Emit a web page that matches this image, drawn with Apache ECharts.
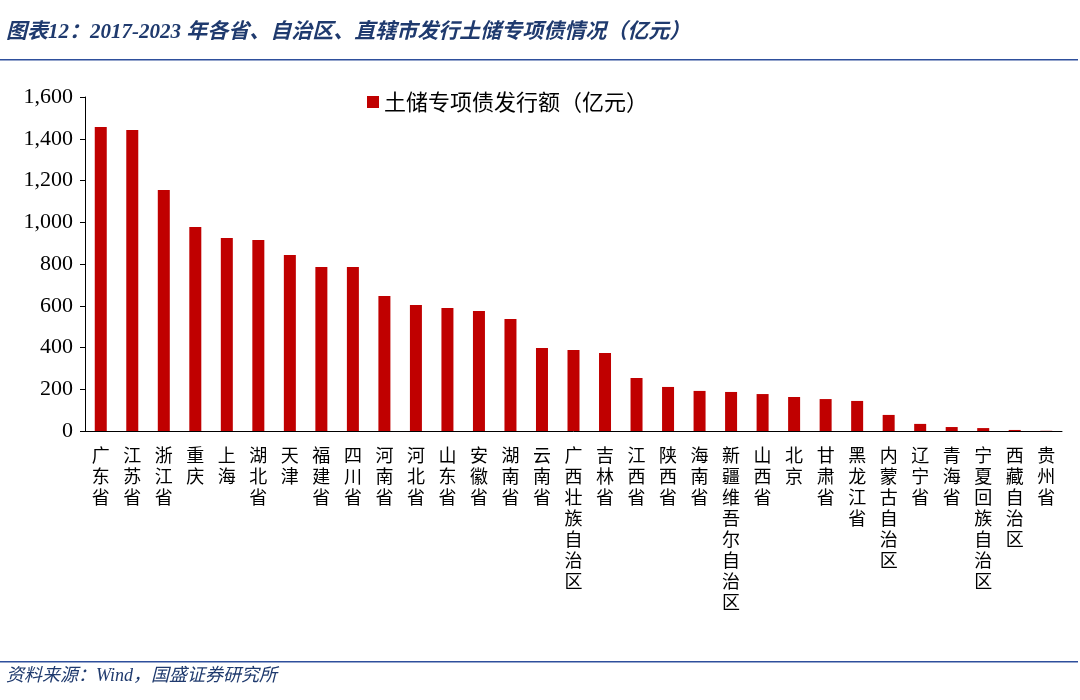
<!DOCTYPE html><html><head><meta charset="utf-8"><script src="https://cdn.jsdelivr.net/npm/echarts@6/dist/echarts.min.js"></script>
<style>body{margin:0;background:#fff}#c{width:1080px;height:700px}</style></head><body><div id="c"></div><script>
const categories=['广东省','江苏省','浙江省','重庆','上海','湖北省','天津','福建省','四川省','河南省','河北省','山东省','安徽省','湖南省','云南省','广西壮族自治区','吉林省','江西省','陕西省','海南省','新疆维吾尔自治区','山西省','北京','甘肃省','黑龙江省','内蒙古自治区','辽宁省','青海省','宁夏回族自治区','西藏自治区','贵州省'];
const values=[1456,1442,1154,977,924,915,843,786,786,647,604,589,575,536,398,388,374,254,211,192,187,177,163,153,144,77,34,19,14,5,1];
const yTicks=[0,200,400,600,800,1000,1200,1400,1600];
const chart=echarts.init(document.getElementById('c'));
chart.setOption({
animation:false,
graphic:[
{type:'text',left:6,top:22,style:{text:'图表12：2017-2023 年各省、自治区、直辖市发行土储专项债情况（亿元）',font:'italic bold 21px "Liberation Serif","Noto Sans CJK SC"',fill:'#1f3a6e'}},
{type:'rect',shape:{x:0,y:59,width:1078,height:1.5},style:{fill:'#2e4f9c'}},
{type:'rect',shape:{x:0,y:661,width:1078,height:1.5},style:{fill:'#2e4f9c'}},
{type:'text',left:6,top:667,style:{text:'资料来源：Wind，国盛证券研究所',font:'italic 18px "Liberation Serif","Noto Sans CJK SC"',fill:'#1f3a6e'}}
],
legend:{top:86,left:362,itemWidth:12,itemHeight:12,icon:'rect',textStyle:{fontSize:22,fontFamily:'Noto Sans CJK SC',color:'#000'},data:['土储专项债发行额（亿元）']},
grid:{left:85,right:18,top:97,bottom:269,containLabel:false},
xAxis:{type:'category',data:categories,axisLine:{lineStyle:{color:'#000'}},axisTick:{show:false},
axisLabel:{interval:0,formatter:v=>v.split('').join('\n'),lineHeight:21,fontSize:18,fontFamily:'Noto Sans CJK SC',color:'#000',margin:14,verticalAlign:'top'}},
yAxis:{type:'value',min:0,max:1600,interval:200,splitLine:{show:false},axisLine:{show:true,lineStyle:{color:'#000'}},axisTick:{show:true,length:5,lineStyle:{color:'#000'}},
axisLabel:{fontSize:22,fontFamily:'Liberation Serif',color:'#000',margin:12}},
series:[{name:'土储专项债发行额（亿元）',type:'bar',data:values,barWidth:12,itemStyle:{color:'#c00000'}}]
});
</script></body></html>
